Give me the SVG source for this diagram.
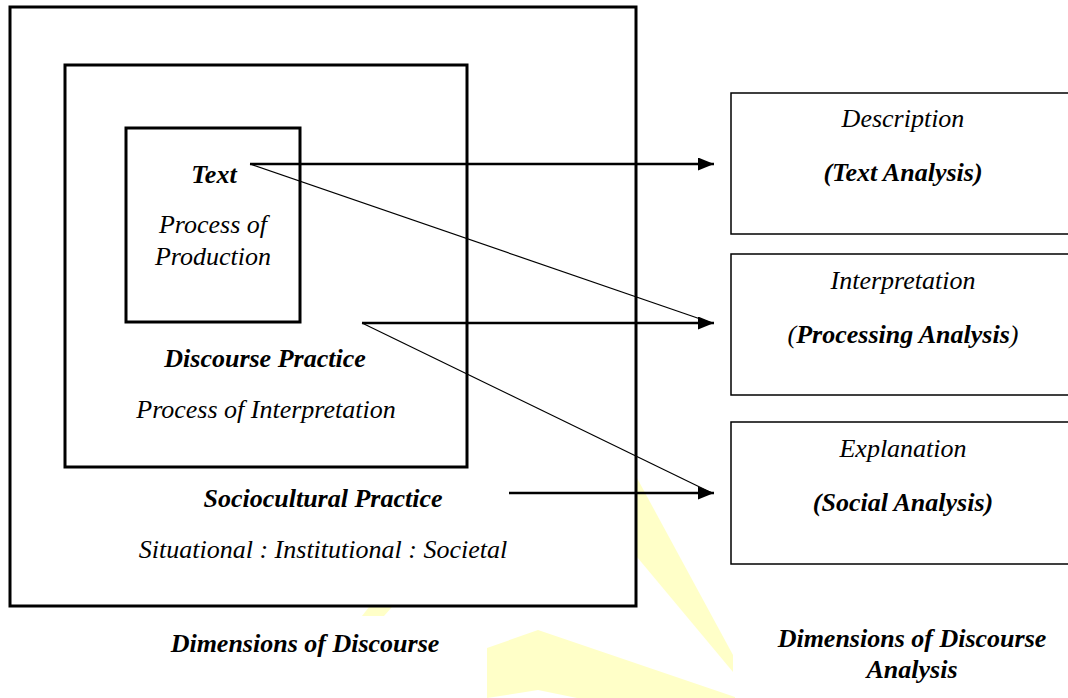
<svg xmlns="http://www.w3.org/2000/svg" width="1068" height="698" viewBox="0 0 1068 698">
<style>
text{font-size:26px;font-style:italic;fill:#000;text-anchor:middle}
.b{font-weight:bold}
.box{fill:#fff;stroke:#000;stroke-width:3}
.rbox{fill:#fff;stroke:#000;stroke-width:1.5}
.wm{fill:#ffffc8;stroke:none}
.thick{stroke:#000;stroke-width:2.5;fill:none}
.thin{stroke:#000;stroke-width:1.2;fill:none}
</style>
<defs>
<marker id="ah" markerWidth="16" markerHeight="13" refX="16" refY="6.5" orient="auto" markerUnits="userSpaceOnUse">
<path d="M0,0 L16,6.5 L0,13 Z" fill="#000"/>
</marker>
</defs>
<rect width="1068" height="698" fill="#fff"/>
<g id="watermark">
<polygon class="wm" points="637,478 733,655 733,672 637,557"/>
<polygon class="wm" points="487,648 538,630 735,697 735,698 577,698 538,690 487,698"/>
<polygon class="wm" points="369,607 392,607 384,616 362,616"/>
</g>
<g font-family="Liberation Serif, DejaVu Serif, serif">
<g id="sociocultural">
<rect class="box" x="10" y="7" width="626" height="599"/>
<text class="b" x="323" y="507">Sociocultural Practice</text>
<text x="323" y="558">Situational : Institutional : Societal</text>
</g>
<g id="discourse">
<rect class="box" x="65" y="65" width="402" height="402"/>
<text class="b" x="265" y="367">Discourse Practice</text>
<text x="266" y="418">Process of Interpretation</text>
</g>
<g id="text">
<rect class="box" x="126" y="128" width="174" height="194"/>
<text class="b" x="214" y="183">Text</text>
<text x="213" y="233">Process of</text>
<text x="213" y="265">Production</text>
</g>
<g id="description">
<rect class="rbox" x="731" y="93" width="345" height="141"/>
<text x="903" y="127">Description</text>
<text class="b" x="903" y="181">(Text Analysis)</text>
</g>
<g id="interpretation">
<rect class="rbox" x="731" y="254" width="345" height="141"/>
<text x="903" y="289">Interpretation</text>
<text class="b" x="903" y="343"><tspan font-weight="normal">(</tspan>Processing Analysis<tspan font-weight="normal">)</tspan></text>
</g>
<g id="explanation">
<rect class="rbox" x="731" y="422" width="345" height="142"/>
<text x="903" y="457">Explanation</text>
<text class="b" x="903" y="511">(Social Analysis)</text>
</g>
<g id="labels">
<text class="b" x="305" y="652">Dimensions of Discourse</text>
<text class="b" x="912" y="647">Dimensions of Discourse</text>
<text class="b" x="912" y="678">Analysis</text>
</g>
</g>
<g id="connectors">
<line class="thick" x1="250" y1="164" x2="714" y2="164" marker-end="url(#ah)"/>
<line class="thin" x1="250" y1="164" x2="712" y2="323"/>
<line class="thick" x1="362" y1="323" x2="714" y2="323" marker-end="url(#ah)"/>
<line class="thin" x1="362" y1="323" x2="712" y2="493"/>
<line class="thick" x1="509" y1="493" x2="714" y2="493" marker-end="url(#ah)"/>
</g>
</svg>
